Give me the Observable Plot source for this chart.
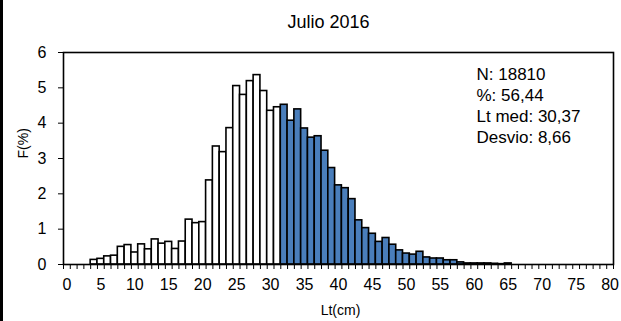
<!DOCTYPE html>
<html>
<head>
<meta charset="utf-8">
<script src="https://cdn.jsdelivr.net/npm/d3@7"></script>
<script src="https://cdn.jsdelivr.net/npm/@observablehq/plot@0.6"></script>
<style>
  html, body { margin: 0; padding: 0; background: #fff; }
  #wrap { position: relative; width: 621px; height: 321px; overflow: hidden; }
  #edge { position: absolute; left: 0; top: 0; width: 3px; height: 321px; background: #000; }
  svg { font-family: "Liberation Sans", Arial, sans-serif; }
</style>
</head>
<body>
<div id="wrap"><div id="edge"></div></div>
<script>
// ---- data ----
const title = "Julio 2016";
const xLabelText = "Lt(cm)";
const yLabelText = "F(%)";
const lengths = [4,5,6,7,8,9,10,11,12,13,14,15,16,17,18,19,20,21,22,23,24,25,26,27,28,29,30,31,32,33,34,35,36,37,38,39,40,41,42,43,44,45,46,47,48,49,50,51,52,53,54,55,56,57,58,59,60,61,62,63,64,65];
const freq = [0.13,0.16,0.23,0.25,0.50,0.55,0.34,0.57,0.43,0.71,0.59,0.64,0.44,0.65,1.27,1.17,1.20,2.38,3.34,3.18,3.86,5.05,4.80,5.19,5.36,4.91,4.35,4.45,4.52,4.07,4.39,3.85,3.59,3.63,3.22,2.73,2.24,2.16,1.85,1.25,1.03,0.87,0.64,0.75,0.56,0.40,0.31,0.28,0.36,0.20,0.17,0.17,0.12,0.12,0.06,0.03,0.03,0.03,0.03,0.02,0.01,0.03];
const splitLength = 32; // bars from this length on are shaded
const xLabels = [0,5,10,15,20,25,30,35,40,45,50,55,60,65,70,75,80];
const yTicks = [0,1,2,3,4,5,6];
const statLabels = ["N:", "%:", "Lt med:", "Desvio:"];
const statValues = ["18810", "56,44", "30,37", "8,66"];

const data = lengths.map((l, i) => ({len: l, f: freq[i]}));
const boundaries = d3.range(0, 82);
const statsText = statLabels.map((s, i) => s + " " + statValues[i]).join("\n");

const chart = Plot.plot({
  width: 621,
  height: 321,
  marginLeft: 63,
  marginRight: 8,
  marginTop: 52,
  marginBottom: 57,
  style: {fontFamily: '"Liberation Sans", Arial, sans-serif', background: "transparent", color: "#000"},
  x: {domain: [0, 81], axis: null},
  y: {domain: [0, 6], axis: null},
  marks: [
    Plot.rectY(data, {
      x1: "len",
      x2: d => d.len + 1,
      y: "f",
      fill: d => d.len >= splitLength ? "#4a7ebb" : "#ffffff",
      stroke: "#000",
      strokeWidth: 1.6
    }),
    Plot.axisX(boundaries, {tickSize: 5, tickFormat: () => "", stroke: "#000", label: null}),
    Plot.axisX(xLabels.map(v => v + 0.5), {
      tickSize: 0, tickPadding: 14, fontSize: 16, label: null,
      tickFormat: v => String(Math.round(v - 0.5))
    }),
    Plot.axisY(yTicks, {tickSize: 5, tickPadding: 12, fontSize: 16, label: null, tickFormat: d => String(d)}),
    Plot.frame({stroke: "#000", strokeWidth: 1.6}),
    Plot.text([title], {frameAnchor: "top", lineAnchor: "middle", dx: -10, dy: -30, fontSize: 18}),
    Plot.text([xLabelText], {frameAnchor: "bottom", lineAnchor: "middle", dx: 2, dy: 46, fontSize: 14}),
    Plot.text([yLabelText], {frameAnchor: "left", lineAnchor: "middle", dx: -40, rotate: -90, fontSize: 14}),
    Plot.text([statsText], {
      frameAnchor: "top-left", dx: 413, dy: 12, textAnchor: "start",
      lineAnchor: "top", lineHeight: 1.25, fontSize: 17
    })
  ]
});
document.getElementById("wrap").appendChild(chart);
</script>
</body>
</html>
